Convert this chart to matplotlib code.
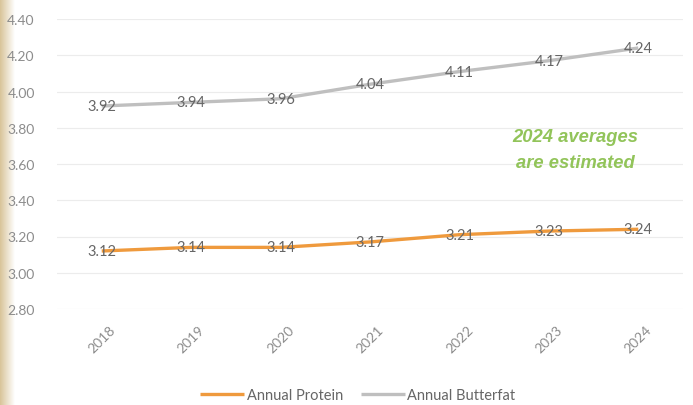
import matplotlib.pyplot as plt
import numpy as np

years = ['2018', '2019', '2020', '2021', '2022', '2023', '2024']
protein = [3.12, 3.14, 3.14, 3.17, 3.21, 3.23, 3.24]
butterfat = [3.92, 3.94, 3.96, 4.04, 4.11, 4.17, 4.24]
yticks = [2.80, 3.00, 3.20, 3.40, 3.60, 3.80, 4.00, 4.20, 4.40]

plt.rcParams['font.family'] = ['Lato', 'DejaVu Sans']

fig = plt.figure(figsize=(6.93, 4.06), dpi=100)

# tan gradient strip on the left edge
strip = fig.add_axes([0, 0, 14 / 693, 1])
grad = np.linspace(0, 1, 64).reshape(1, -1)
tan = np.array([0.85, 0.77, 0.60])
img = tan[None, None, :] * (1 - grad[..., None]) + np.ones(3)[None, None, :] * grad[..., None]
strip.imshow(img, aspect='auto', extent=[0, 1, 0, 1])
strip.axis('off')

ax = fig.add_axes([57 / 693, 1 - 310 / 406, 626 / 693, 290 / 406])
x = np.arange(len(years))
ax.plot(x, protein, color='#ef9a3d', lw=2.4, solid_capstyle='butt', label='Annual Protein')
ax.plot(x, butterfat, color='#bfbfbf', lw=2.4, solid_capstyle='butt', label='Annual Butterfat')

for xi, v in zip(x, protein):
    ax.text(xi, v, '%.2f' % v, ha='center', va='center', fontsize=10.5, color='#666666')
for xi, v in zip(x, butterfat):
    ax.text(xi, v, '%.2f' % v, ha='center', va='center', fontsize=10.5, color='#666666')

ax.set_xlim(-0.5, len(years) - 0.5)
ax.set_ylim(2.8, 4.4)
ax.set_yticks(yticks)
ax.set_yticklabels(['%.2f' % t for t in yticks])
ax.set_xticks(x)
ax.set_xticklabels(years, rotation=45, ha='center', va='top')
ax.tick_params(length=0, colors='#8c8c8c', labelsize=10)
ax.tick_params(axis='y', pad=16)
ax.tick_params(axis='x', pad=10)
ax.grid(axis='y', color='#ececec', lw=0.8)
ax.set_axisbelow(True)
for s in ax.spines.values():
    s.set_visible(False)

ax.text(5.3, 3.68, '2024 averages\nare estimated', ha='center', va='center',
        fontsize=13.2, color='#92c45a', fontstyle='italic', fontweight='bold',
        family='Liberation Sans', linespacing=1.7)

fig.legend(loc='center', bbox_to_anchor=(358 / 693, 1 - 396 / 406), ncol=2,
           frameon=False, fontsize=10.5, labelcolor='#666666', handlelength=3.0,
           handletextpad=0.2, columnspacing=1.2)

fig.savefig('out.png', dpi=100)
